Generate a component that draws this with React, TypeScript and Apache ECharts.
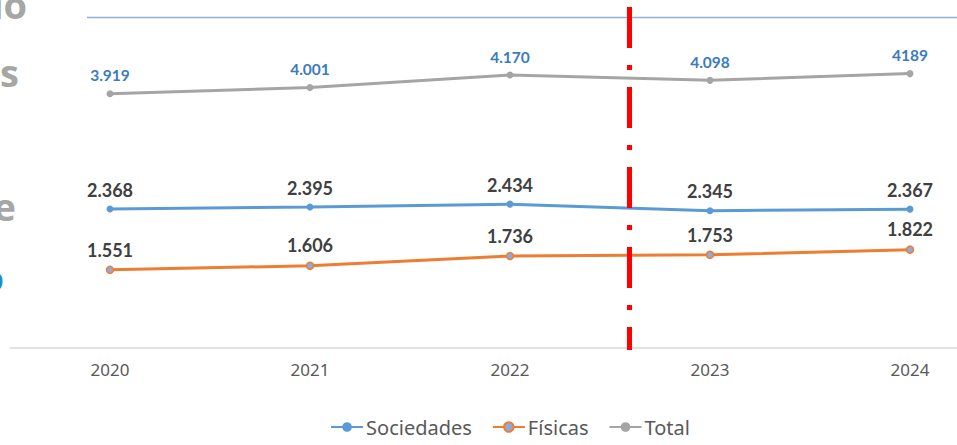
import React, { useEffect, useRef } from "react";
import * as echarts from "echarts";

const years = ["2020", "2021", "2022", "2023", "2024"];
const sociedades = [2368, 2395, 2434, 2345, 2367];
const fisicas = [1551, 1606, 1736, 1753, 1822];
const total = [3919, 4001, 4170, 4098, 4189];
const totalLabels = ["3.919", "4.001", "4.170", "4.098", "4189"];
const fmt = (v: number) => {
  const s = String(v);
  return s.length > 3 ? s.slice(0, s.length - 3) + "." + s.slice(s.length - 3) : s;
};

export default function App() {
  const ref = useRef<HTMLDivElement>(null);
  useEffect(() => {
    if (!ref.current) return;
    const chart = echarts.init(ref.current, undefined, { renderer: "svg" });
    const labelBase = {
      show: true,
      position: "top" as const,
      distance: 7,
      fontFamily: "Lato",
      fontWeight: "bold" as const,
    };
    chart.setOption({
      animation: false,
      grid: { left: 10, right: 10, top: 17, bottom: 97 },
      xAxis: {
        type: "category",
        data: years,
        axisLine: { lineStyle: { color: "#d9d9d9", width: 1.5 } },
        axisTick: { show: false },
        axisLabel: { color: "#595959", fontSize: 17, fontFamily: "Noto Sans", margin: 13 },
      },
      yAxis: {
        type: "value",
        min: 500,
        max: 4950,
        show: false,
        splitLine: { show: false },
      },
      legend: {
        bottom: 3,
        left: "center",
        itemWidth: 32,
        itemHeight: 12,
        itemGap: 20,
        textStyle: { color: "#595959", fontSize: 20, fontFamily: "Noto Sans", padding: [0, 0, 0, -2] },
        data: ["Sociedades", "Físicas", "Total"],
      },
      series: [
        {
          name: "Sociedades",
          type: "line",
          data: sociedades,
          symbol: "circle",
          symbolSize: 7,
          lineStyle: { color: "#5b9bd5", width: 3 },
          itemStyle: { color: "#5b9bd5" },
          label: { ...labelBase, color: "#404040", fontSize: 18, formatter: (p: any) => fmt(p.value) },
        },
        {
          name: "Físicas",
          type: "line",
          data: fisicas,
          symbol: "circle",
          symbolSize: 7,
          lineStyle: { color: "#ed7d31", width: 3 },
          itemStyle: { color: "#8faadc", borderColor: "#ed7d31", borderWidth: 1.5 },
          label: { ...labelBase, color: "#404040", fontSize: 18, formatter: (p: any) => fmt(p.value) },
        },
        {
          name: "Total",
          type: "line",
          data: total,
          symbol: "circle",
          symbolSize: 7,
          lineStyle: { color: "#a5a5a5", width: 3 },
          itemStyle: { color: "#a5a5a5" },
          label: {
            ...labelBase,
            color: "#3b7bbf",
            fontSize: 15.5,
            formatter: (p: any) => totalLabels[p.dataIndex],
          },
        },
      ],
      graphic: [
        {
          type: "line",
          shape: { x1: 87, y1: 17.5, x2: 1020, y2: 17.5 },
          style: { stroke: "#8fb0dc", lineWidth: 1.5 },
          z: 5,
        },
        {
          type: "line",
          shape: { x1: 629.5, y1: 7, x2: 629.5, y2: 350 },
          style: { stroke: "#ff0000", lineWidth: 5, lineDash: [41, 17, 5, 17] },
          z: 100,
        },
        {
          type: "text",
          x: 27,
          y: 4,
          style: { text: "lo", textAlign: "right", textVerticalAlign: "middle", fill: "#a6a6a6", font: "bold 38px 'Open Sans'" },
        },
        {
          type: "text",
          x: 19,
          y: 72,
          style: { text: "s", textAlign: "right", textVerticalAlign: "middle", fill: "#a6a6a6", font: "bold 38px 'Open Sans'" },
        },
        {
          type: "text",
          x: 16,
          y: 206,
          style: { text: "e", textAlign: "right", textVerticalAlign: "middle", fill: "#a6a6a6", font: "bold 38px 'Open Sans'" },
        },
        {
          type: "text",
          x: 4,
          y: 277,
          style: { text: "o", textAlign: "right", textVerticalAlign: "middle", fill: "#1a8fc0", font: "bold 38px 'Open Sans'" },
        },
      ],
    });
    return () => chart.dispose();
  }, []);
  return (
    <div style={{ position: "fixed", left: 0, top: 0, width: 957, height: 445, overflow: "hidden", background: "#fff" }}>
      <div ref={ref} style={{ width: 1020, height: 445 }} />
    </div>
  );
}
